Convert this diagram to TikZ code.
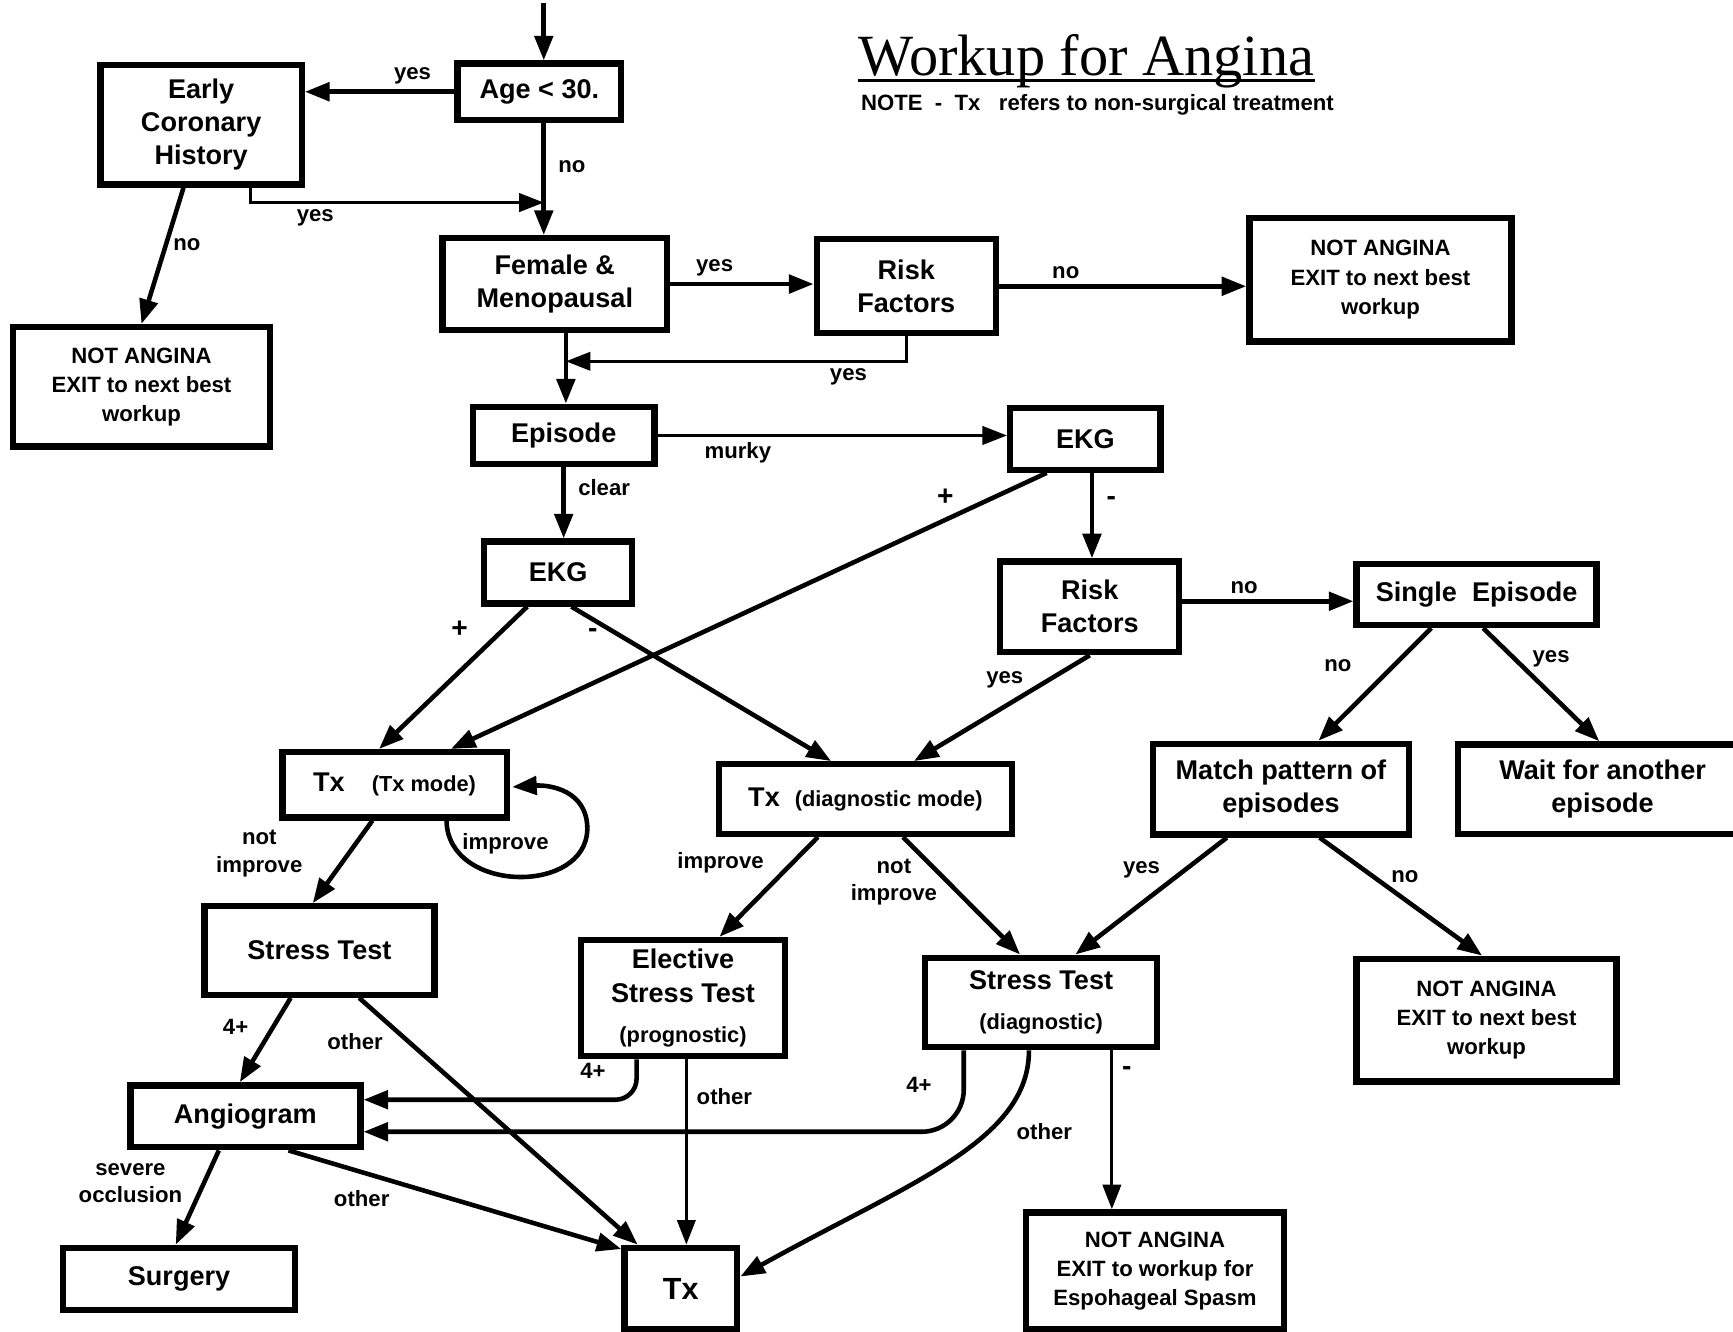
\documentclass[tikz,border=0pt]{standalone}
\usepackage{fontspec}
\setmainfont{Liberation Serif}
\setsansfont{Liberation Sans}
\usetikzlibrary{positioning,calc,arrows.meta}
\newcommand{\pxu}{0.31446pt}

\begin{document}
\begin{tikzpicture}[x=0.011052cm, y=-0.011052cm,
					sz/.style 2 args={minimum width=#1*\pxu, minimum height=#2*\pxu}
					]
					\tikzset{
						angbox/.style={
							draw,
							line width=1.8pt,
							fill=white,
							align=center,
							inner sep=0pt,
							font=\sffamily\bfseries\fontsize{7.7}{9.4}\selectfont
						},
						angexit/.style={angbox, font=\sffamily\bfseries\fontsize{6.3}{8.3}\selectfont},
						angflow/.style={draw, line width=1.3pt, -{Triangle[length=7pt,width=5.2pt]}},
						angthin/.style={angflow, line width=0.9pt},
						anglab/.style={font=\sffamily\bfseries\fontsize{6.3}{7.8}\selectfont, inner sep=1.5pt, align=center},
						angsign/.style={anglab, font=\sffamily\bfseries\fontsize{8}{9}\selectfont}
					}
					\newcommand{\sm}{\fontsize{6.2}{8}\selectfont}
					\useasboundingbox (0,0) rectangle (1568,1205);

					% boxes
					\node[angbox, sz={148}{51}] (age) at (488,83) {Age < 30.};
					\node[angbox, sz={182}{108}] (early) at (182,113) {Early\\Coronary\\History};
					\node[angexit, sz={232}{108}] (na1) at (128,350) {NOT ANGINA\\EXIT to next best\\workup};
					\node[angbox, sz={203}{83}] (female) at (502,257) {Female \&\\Menopausal};
					\node[angbox, sz={162}{85}] (risk1) at (820,259) {Risk\\Factors};
					\node[angexit, sz={237}{112}] (na2) at (1249,253) {NOT ANGINA\\EXIT to next best\\workup};
					\node[angbox, sz={164}{52}] (episode) at (510,394) {Episode};
					\node[angbox, sz={136}{56}] (ekgr) at (982,397) {EKG};
					\node[angbox, sz={134}{56}] (ekgl) at (505,518) {EKG};
					\node[angbox, sz={162}{82}] (risk2) at (986,549) {Risk\\Factors};
					\node[angbox, sz={217}{55}] (single) at (1336,538) {Single\ \ Episode};
					\node[angbox, sz={203}{59}] (txmode) at (357,710) {Tx\quad{\sm (Tx mode)}};
					\node[angbox, sz={265}{63}] (txdiag) at (783,723) {Tx\ \ {\sm (diagnostic mode)}};
					\node[angbox, sz={232}{82}] (match) at (1159,714) {Match pattern of\\episodes};
					\node[angbox, sz={262}{81}] (wait) at (1450,714) {Wait for another\\episode};
					\node[angbox, sz={208}{80}] (stressl) at (289,860) {Stress Test};
					\node[angbox, sz={185}{105}] (elective) at (618,903) {Elective\\Stress Test\\[2pt]{\sm (prognostic)}};
					\node[angbox, sz={210}{81}] (stressd) at (942,907) {Stress Test\\[2pt]{\sm (diagnostic)}};
					\node[angexit, sz={235}{111}] (na3) at (1345,923) {NOT ANGINA\\EXIT to next best\\workup};
					\node[angbox, sz={208}{56}] (angio) at (222,1010) {Angiogram};
					\node[angexit, sz={233}{106}] (na4) at (1045,1150) {NOT ANGINA\\EXIT to workup for\\Espohageal Spasm};
					\node[angbox, sz={210}{56}] (surgery) at (162,1157) {Surgery};
					\node[angbox, sz={102}{74}, font=\sffamily\bfseries\fontsize{8.7}{10}\selectfont] (txb) at (616,1166) {Tx};

					\node[font=\rmfamily\fontsize{16.6}{19}\selectfont, anchor=base, inner sep=0pt] (title) at (983,68) {Workup for Angina};
					\draw[line width=0.8pt] ($(title.base west)+(0,5)$) -- ($(title.base east)+(0,5)$);
					\node[font=\sffamily\bfseries\fontsize{6.3}{8}\selectfont, anchor=base] (note) at (993,100) {NOTE\ \ -\ \ Tx\ \ \ refers to non-surgical treatment};

					% connectors
					\coordinate (entry) at (492,3);
					\draw[angflow] (entry) -- (entry |- age.north);
					\draw[angflow] (age.west) -- (age.west -| early.east) node[anglab, pos=0.28, above] (l1) {yes};
					\draw[angflow] (entry |- age.south) -- (entry |- female.north) node[anglab, pos=0.39, right=2pt] (l2) {no};
					\coordinate (merge1) at ($(entry |- age.south)!0.71!(entry |- female.north)$);
					\draw[angthin] ($(early.south)+(45,0)$) |- (merge1) node[anglab, pos=0.61, below] (l3) {yes};
					\draw[angflow] ($(early.south)+(-16,0)$) -- (na1.north) node[anglab, pos=0.42, right] (l4) {no};
					\draw[angflow] (female.east) -- (female.east -| risk1.west) node[anglab, pos=0.31, above] (l5) {yes};
					\draw[angflow] (risk1.east) -- (risk1.east -| na2.west) node[anglab, pos=0.27, above] (l6) {no};
					\coordinate (fdown) at ($(female.south)+(10,0)$);
					\draw[angflow] (fdown) -- (fdown |- episode.north);
					\coordinate (merge2) at ($(fdown)!0.4!(fdown |- episode.north)$);
					\draw[angthin] (risk1.south) |- (merge2) node[anglab, pos=0.585, below] (l7) {yes};
					\draw[angthin] (episode.east) -- (episode.east -| ekgr.west) node[anglab, pos=0.23, below] (l8) {murky};
					\draw[angflow] (episode.south) -- (episode.south |- ekgl.north) node[anglab, pos=0.29, right=2pt] (l9) {clear};

					\draw[angflow] ($(ekgl.south)+(-28,0)$) -- ($(txmode.north)+(-14,0)$) node[angsign, pos=0.16, left=8pt] (l10) {+};
					\draw[angflow] ($(ekgl.south)+(12,0)$) -- ($(txdiag.north)+(-31,0)$) node[angsign, pos=0.17, left=3pt] (l11) {-};
					\draw[angflow] ($(ekgr.south)+(-35,0)$) -- ($(txmode.north)+(51,0)$) node[angsign, pos=0.17, above=2pt] (l12) {+};
					\coordinate (ekgminus) at ($(ekgr.south)+(6,0)$);
					\draw[angflow] (ekgminus) -- (ekgminus |- risk2.north) node[angsign, pos=0.33, right=2pt] (l13) {-};
					\coordinate (r2out) at ($(risk2.east)+(0,-5)$);
					\draw[angflow] (r2out) -- (r2out -| single.west) node[anglab, pos=0.36, above] (l14) {no};
					\draw[angflow] (risk2.south) -- ($(txdiag.north)+(44,0)$) node[anglab, pos=0.235, left=5pt] (l15) {yes};
					\draw[angflow] ($(single.south)+(-41,0)$) -- ($(match.north)+(34,0)$) node[anglab, pos=0.33, left=10pt] (l16) {no};
					\draw[angflow] ($(single.south)+(6,0)$) -- ($(wait.north)+(-3,0)$) node[anglab, pos=0.27, right=3pt] (l17) {yes};

					\draw[angflow] ($(txmode.south)+(47,0)$) .. controls +(1,66) and +(-1,60) .. ($(txmode.east)+(70,40)$)
						.. controls +(0,-35) and +(34,-2) .. ($(txmode.east)+(2,2)$);
					\node[anglab] (l18) at ($(txmode.south east)+(-4,21)$) {improve};
					\draw[angflow] ($(txmode.south)+(-20,0)$) -- ($(stressl.north)+(-6,0)$) node[anglab, pos=0.4, left=11pt] (l19) {not\\improve};
					\draw[angflow] ($(txdiag.south)+(-43,0)$) -- ($(elective.north)+(33,0)$) node[anglab, pos=0.26, left=6pt] (l20) {improve};
					\draw[angflow] ($(txdiag.south)+(34,0)$) -- ($(stressd.north)+(-19,0)$) node[anglab, pos=0.385, left=1pt] (l21) {not\\improve};
					\draw[angflow] ($(match.south)+(-49,0)$) -- ($(stressd.north)+(31,0)$) node[anglab, pos=0.275, left=5pt] (l22) {yes};
					\draw[angflow] ($(match.south)+(35,0)$) -- ($(na3.north)+(-4,0)$) node[anglab, pos=0.33, right=3pt] (l23) {no};

					\draw[angflow] ($(stressl.south)+(-26,0)$) -- ($(angio.north)+(-5,0)$) node[anglab, pos=0.34, left=5pt] (l24) {4+};
					\draw[angflow] ($(stressl.south)+(36,0)$) -- ($(txb.north)+(-39,0)$) node[anglab, pos=0.175, left=5pt] (l25) {other};
					\coordinate (eo) at ($(elective.south)+(3,0)$);
					\draw[angthin] (eo) -- (eo |- txb.north) node[anglab, pos=0.2, right=1pt] (l26) {other};
					\draw[angflow, rounded corners=6pt] ($(elective.south)+(-42,0)$) |- ($(angio.east)+(0,-15)$) node[anglab, pos=0.58, above=4pt] (l27) {4+};
					\draw[angflow, rounded corners=12pt] ($(stressd.south)+(-70,0)$) |- ($(angio.east)+(0,14)$) node[anglab, pos=0.21, left=7pt] (l28) {4+};
					\draw[angflow] ($(stressd.south)+(-11,0)$) .. controls +(0,82) and +(153,-85) .. ($(txb.east)+(0,-11)$) node[anglab, pos=0.35, right=6pt] (l29) {other};
					\coordinate (sdm) at ($(stressd.south)+(64,0)$);
					\draw[angthin] (sdm) -- (sdm |- na4.north) node[angsign, pos=0.13, right=1pt] (l30) {-};
					\draw[angflow] ($(angio.south)+(-24,0)$) -- ($(surgery.north)+(-3,0)$) node[anglab, pos=0.35, left=4pt] (l31) {severe\\occlusion};
					\draw[angflow] ($(angio.south)+(39,0)$) -- ($(txb.north west)+(0,4)$) node[anglab, pos=0.22, below=3pt] (l32) {other};
				\end{tikzpicture}
\end{document}
